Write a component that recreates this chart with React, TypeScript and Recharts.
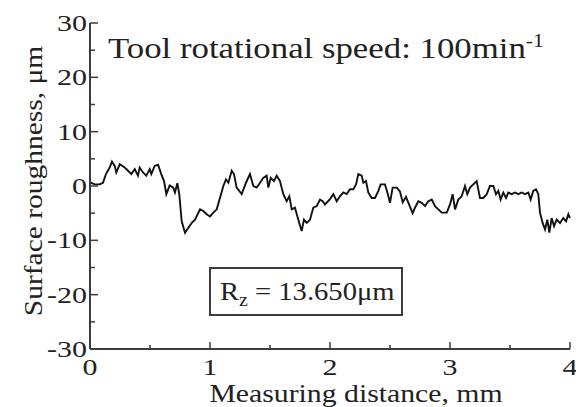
import React from "react";
import { LineChart, Line, XAxis, YAxis } from "recharts";

// measuring distance (mm)
const distance = [
  0, 0.006, 0.039, 0.081, 0.108, 0.133, 0.164, 0.183, 0.206, 0.219,
  0.248, 0.289, 0.317, 0.344, 0.373, 0.4, 0.414, 0.442, 0.469, 0.498,
  0.511, 0.539, 0.567, 0.594, 0.617, 0.636, 0.664, 0.694, 0.708, 0.728,
  0.744, 0.764, 0.792, 0.819, 0.848, 0.875, 0.917, 0.944, 0.973, 1.0,
  1.028, 1.056, 1.083, 1.111, 1.133, 1.153, 1.181, 1.2, 1.222, 1.264,
  1.3, 1.333, 1.361, 1.389, 1.417, 1.444, 1.472, 1.486, 1.506, 1.533,
  1.556, 1.583, 1.611, 1.639, 1.661, 1.681, 1.708, 1.736, 1.764, 1.783,
  1.806, 1.833, 1.861, 1.889, 1.917, 1.939, 1.958, 2.0, 2.028, 2.056,
  2.083, 2.111, 2.139, 2.167, 2.194, 2.217, 2.236, 2.264, 2.278, 2.3,
  2.319, 2.347, 2.375, 2.403, 2.422, 2.458, 2.478, 2.5, 2.522, 2.556,
  2.583, 2.606, 2.633, 2.661, 2.689, 2.708, 2.736, 2.764, 2.792, 2.819,
  2.848, 2.875, 2.903, 2.931, 2.973, 3.0, 3.022, 3.042, 3.069, 3.097,
  3.125, 3.144, 3.167, 3.194, 3.222, 3.25, 3.278, 3.306, 3.333, 3.361,
  3.383, 3.403, 3.422, 3.444, 3.467, 3.486, 3.514, 3.542, 3.569, 3.597,
  3.625, 3.653, 3.672, 3.694, 3.717, 3.736, 3.75, 3.772, 3.792, 3.811,
  3.828, 3.847, 3.867, 3.889, 3.917, 3.944, 3.967, 3.986, 4.0,
];

// surface roughness (um)
const roughness = [
  0.8, 0.6, 0.3, 0.3, 0.6, 2.2, 3.4, 4.5, 3.7, 2.5,
  4.0, 3.4, 2.8, 2.2, 3.1, 1.9, 3.4, 2.5, 1.9, 3.1,
  2.2, 3.7, 3.9, 2.2, 0.9, -1.5, 0.1, -0.3, -1.2, 0.5,
  -1.5, -6.5, -8.6, -7.7, -6.8, -6.2, -4.3, -4.6, -5.2, -5.6,
  -4.9, -4.3, -2.2, 0, 1.2, 0.6, 2.8, 2.2, -0.3, -1.5,
  0.6, 2.2, 0, -0.3, 0.6, 1.5, 1.9, -0.3, 1.5, 0.9,
  1.9, 0.9, -1.5, -2.8, -1.9, -4.3, -4.0, -6.2, -8.3, -6.2,
  -6.8, -6.2, -4.0, -3.7, -2.5, -2.8, -3.4, -2.4, -1.5, -2.8,
  -1.9, -1.2, -1.5, -0.6, -0.6, 0.3, 2.2, 1.9, 0.6, 0.9,
  -1.2, -2.2, -2.2, -0.9, 0.3, 0.3, -1.2, -3.1, -0.3, -0.3,
  -1.0, -3.0, -2.0, -3.5, -5.0, -4.0, -2.8, -3.1, -3.7, -2.8,
  -2.5, -3.7, -4.3, -4.9, -4.9, -3.4, -1.5, -4.3, -2.5, -1.9,
  0, -1.5, -0.3, 0.3, 0.9, -2.2, -2.2, -1.5, 0, 0,
  -1.5, -0.9, -2.5, -1.2, -2.2, -1.2, -1.5, -1.2, -1.5, -1.2,
  -1.5, -1.2, -2.5, -0.9, -0.6, -1.5, -4.9, -6.8, -8.0, -6.2,
  -8.6, -5.9, -7.4, -6.2, -6.8, -5.9, -6.5, -5.2, -5.9,
];

const xTicks = [0, 0.5, 1, 1.5, 2, 2.5, 3, 3.5, 4];
const xLabels = [0, 1, 2, 3, 4];
const yTicks = [-30, -25, -20, -15, -10, -5, 0, 5, 10, 15, 20, 25, 30];
const yLabels = [-30, -20, -10, 0, 10, 20, 30];

const data = distance.map((d, i) => ({ d, r: roughness[i] }));

const FONT = "'Liberation Serif', 'Times New Roman', serif";
const INK = "#222";
const FRAME = "#3c3c3c";

function BottomTick(props: any) {
  const { x, y, payload } = props;
  const major = xLabels.includes(payload.value);
  return (
    <g>
      <line x1={x} y1={y} x2={x} y2={y - (major ? 7 : 4)} stroke={FRAME} strokeWidth={1.5} />
      {major && (
        <text
          transform={`translate(${x},${y + 26}) scale(1.25,1)`}
          textAnchor="middle"
          fontFamily={FONT}
          fontSize={24}
          fill={INK}
        >
          {payload.value}
        </text>
      )}
    </g>
  );
}

function TopTick(props: any) {
  const { x, y, payload } = props;
  const major = xLabels.includes(payload.value);
  return <line x1={x} y1={y} x2={x} y2={y + (major ? 7 : 4)} stroke={FRAME} strokeWidth={1.5} />;
}

function LeftTick(props: any) {
  const { x, y, payload } = props;
  const major = yLabels.includes(payload.value);
  return (
    <g>
      <line x1={x} y1={y} x2={x + (major ? 8 : 5)} y2={y} stroke={FRAME} strokeWidth={1.5} />
      {major && (
        <text
          transform={`translate(${x - 3},${y + 8}) scale(1.25,1)`}
          textAnchor="end"
          fontFamily={FONT}
          fontSize={24}
          fill={INK}
        >
          {payload.value}
        </text>
      )}
    </g>
  );
}

function RightTick(props: any) {
  const { x, y, payload } = props;
  const major = yLabels.includes(payload.value);
  return <line x1={x} y1={y} x2={x - (major ? 8 : 5)} y2={y} stroke={FRAME} strokeWidth={1.5} />;
}

export default function App() {
  return (
    <div style={{ position: "absolute", left: 0, top: 0, width: 576, height: 407, background: "#fff" }}>
      <LineChart width={576} height={407} data={data} margin={{ top: 23, right: 6, bottom: 0, left: 0 }}>
        <XAxis
          dataKey="d"
          type="number"
          domain={[0, 4]}
          ticks={xTicks}
          interval={0}
          height={58}
          tickSize={0}
          tickMargin={0}
          tickLine={false}
          tick={<BottomTick />}
          axisLine={{ stroke: FRAME, strokeWidth: 2 }}
        />
        <XAxis
          xAxisId="top"
          orientation="top"
          type="number"
          domain={[0, 4]}
          ticks={xTicks}
          interval={0}
          height={0}
          tickSize={0}
          tickMargin={0}
          tickLine={false}
          tick={<TopTick />}
          axisLine={{ stroke: FRAME, strokeWidth: 2 }}
        />
        <YAxis
          type="number"
          domain={[-30, 30]}
          ticks={yTicks}
          interval={0}
          width={90}
          tickSize={0}
          tickMargin={0}
          tickLine={false}
          tick={<LeftTick />}
          axisLine={{ stroke: FRAME, strokeWidth: 2 }}
        />
        <YAxis
          yAxisId="right"
          orientation="right"
          type="number"
          domain={[-30, 30]}
          ticks={yTicks}
          interval={0}
          width={0}
          tickSize={0}
          tickMargin={0}
          tickLine={false}
          tick={<RightTick />}
          axisLine={{ stroke: FRAME, strokeWidth: 2 }}
        />
        <Line
          type="linear"
          dataKey="r"
          stroke="#111"
          strokeWidth={1.9}
          dot={false}
          isAnimationActive={false}
        />
      </LineChart>
      <svg
        width={576}
        height={407}
        style={{ position: "absolute", left: 0, top: 0, pointerEvents: "none" }}
        fontFamily={FONT}
        fill={INK}
      >
        <text transform="translate(108,58) scale(1.2,1)" fontSize={29}>
          Tool rotational speed: 100min
          <tspan fontSize={18} dy={-11}>-1</tspan>
        </text>
        <rect x={210} y={268} width={192} height={47} fill="#fff" stroke={FRAME} strokeWidth={2} />
        <text transform="translate(220,300) scale(1.1,1)" fontSize={26}>
          R<tspan fontSize={18} dy={6}>z</tspan>
          <tspan dy={-6}> = 13.650μm</tspan>
        </text>
        <text transform="translate(356,402) scale(1.19,1)" fontSize={25} textAnchor="middle">
          Measuring distance, mm
        </text>
        <text transform="translate(42,181) rotate(-90) scale(1.18,1)" fontSize={25} textAnchor="middle">
          Surface roughness, μm
        </text>
      </svg>
    </div>
  );
}
